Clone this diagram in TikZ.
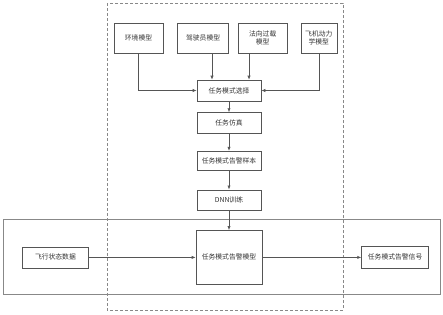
\documentclass[tikz,border=0pt]{standalone}
\usepackage{fontspec}
\setmainfont{Noto Sans CJK SC}
\usetikzlibrary{arrows.meta,positioning}
\definecolor{ln}{HTML}{555555}
\definecolor{fr}{HTML}{888888}
\definecolor{tx}{HTML}{333333}
\tikzset{
  box/.style={draw=ln,semithick,fill=white,align=center,inner sep=1pt,text=tx,font=\fontsize{6.8}{8.5}\selectfont},
  ar/.style={-{Latex[length=4pt,width=3.2pt]},semithick,draw=ln},
  dashbox/.style={draw=fr,thin,dash pattern=on 3pt off 2pt},
  solbox/.style={draw=fr,semithick},
}
\begin{document}
\begin{tikzpicture}[x=1pt,y=1pt,node distance=10pt]
\useasboundingbox (0,0) rectangle (443,-314);
% frames
\draw[solbox] (3,-219) rectangle (440,-294);
\draw[dashbox] (107,-3) rectangle (343,-310);
% top row
\node[box,minimum width=49pt,minimum height=30pt] (env) at (138.5,-38) {环境模型};
\node[box,minimum width=51pt,minimum height=30pt,right=14pt of env] (drv) {驾驶员模型};
\node[box,minimum width=49pt,minimum height=30pt,right=9pt of drv] (load) {法向过载\\模型};
\node[box,minimum width=36pt,minimum height=30pt,right=13pt of load] (dyn) {飞机动力\\学模型};
% main chain
\node[box,minimum width=64pt,minimum height=21pt] (sel) at (229,-90.5) {任务模式选择};
\node[box,minimum width=64pt,minimum height=21pt,below=11pt of sel] (sim) {任务仿真};
\node[box,minimum width=64pt,minimum height=19pt,below=17pt of sim] (smp) {任务模式告警样本};
\node[box,minimum width=64pt,minimum height=20pt,below=19pt of smp] (dnn) {DNN训练};
\node[box,minimum width=66pt,minimum height=54pt,below=20pt of dnn] (mdl) {任务模式告警模型};
% side boxes
\node[box,minimum width=66pt,minimum height=21pt,left=107pt of mdl] (dat) {飞行状态数据};
\node[box,minimum width=67pt,minimum height=22pt,right=99pt of mdl] (sig) {任务模式告警信号};
% arrows
\draw[ar] (env.south) |- (sel.west);
\draw[ar] ([xshift=-17pt]sel.north |- drv.south) -- ([xshift=-17pt]sel.north);
\draw[ar] ([xshift=20pt]sel.north |- load.south) -- ([xshift=20pt]sel.north);
\draw[ar] (dyn.south) |- (sel.east);
\draw[ar] (sel) -- (sim);
\draw[ar] (sim) -- (smp);
\draw[ar] (smp) -- (dnn);
\draw[ar] (dnn) -- (mdl);
\draw[ar] (dat) -- (mdl);
\draw[ar] (mdl) -- (sig);
\end{tikzpicture}
\end{document}
